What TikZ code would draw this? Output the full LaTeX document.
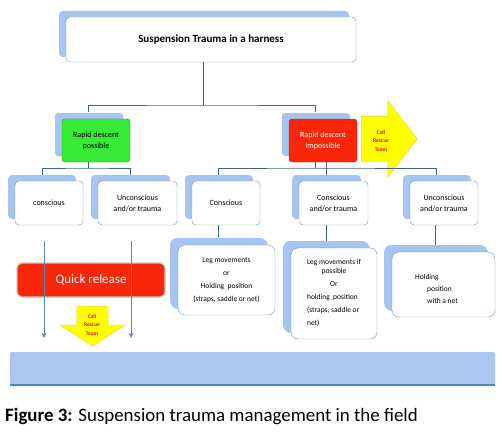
\documentclass[tikz,border=0pt]{standalone}
\usepackage{fontspec}
\setmainfont{Carlito}
\usetikzlibrary{arrows.meta, shapes.arrows, shadows, positioning}
\definecolor{shadowblue}{RGB}{166,196,240}
\definecolor{boxline}{RGB}{110,145,190}
\definecolor{connline}{RGB}{60,100,140}
\definecolor{arrowline}{RGB}{90,134,184}
\definecolor{okgreen}{RGB}{55,235,55}
\definecolor{alarmred}{RGB}{250,38,10}
\definecolor{callyellow}{RGB}{255,255,0}
\definecolor{barblue}{RGB}{169,199,240}
\definecolor{baredge}{RGB}{80,130,190}

\begin{document}
\begin{tikzpicture}[x=1pt, y=-1pt,
    box/.style={rectangle, draw=boxline, thin, fill=white, rounded corners=4pt, align=center, font=\fontsize{8}{11}\selectfont, minimum width=68pt, minimum height=44pt, inner sep=2pt, copy shadow={shadow xshift=-7pt, shadow yshift=6pt, fill=shadowblue, draw=none}},
    titlebox/.style={box, minimum width=290pt, minimum height=45pt, font=\fontsize{11}{13}\selectfont\bfseries, copy shadow={shadow xshift=-7pt, shadow yshift=5pt, fill=shadowblue, draw=none}},
    actbox/.style={box, rounded corners=7pt, font=\fontsize{7.5}{9}\selectfont, copy shadow={shadow xshift=-8pt, shadow yshift=7pt, fill=shadowblue, draw=none}},
    greenbox/.style={box, fill=okgreen, draw=okgreen!60!black, rounded corners=3pt, minimum height=43pt},
    redbox/.style={box, fill=alarmred, draw=alarmred!80!black, text=white, rounded corners=3pt, minimum height=43pt},
    releasebox/.style={rectangle, fill=alarmred, draw=gray!45, line width=1.2pt, rounded corners=5pt, text=white, font=\fontsize{13}{15}\selectfont, minimum width=148pt, minimum height=34pt},
    callarrow/.style={single arrow, fill=callyellow, draw=callyellow!70!gray, thin, anchor=tail, inner sep=0pt},
    calltext/.style={text=red, align=center, font=\fontsize{5.5}{8.5}\selectfont\bfseries, inner sep=0pt},
    conn/.style={draw=connline, thin},
    downline/.style={draw=arrowline, thin, -{Stealth[length=5pt, width=5pt]}}
]
    \useasboundingbox (0,0) rectangle (502,433);

    % Top of the tree
    \node (title) [titlebox] at (211,39.5) {Suspension Trauma in a harness};

    % Second level: can the casualty be lowered
    \node (green) [greenbox] at (96,140.5) {Rapid descent\\possible};
    \node (red) [redbox] at (323,140.5) {Rapid descent\\impossible};
    \node (callR) [callarrow, inner ysep=22.5pt, minimum height=56pt, single arrow head extend=15.5pt, single arrow tip angle=105] at (361,139) {};
    \node (callRtxt) [calltext] at (381,141) {Call\\Rescue\\Team};

    % Third level: state of the casualty
    \node (c1) [box] at (49,203) {conscious};
    \node (u1) [box, minimum width=79pt] at (137.5,203) {Unconscious\\and/or trauma};
    \node (c2) [box] at (226,203) {Conscious};
    \node (c3) [box, minimum width=69pt] at (333.5,203) {Conscious\\and/or trauma};
    \node (u2) [box] at (444,203) {Unconscious\\and/or trauma};

    % Fourth level: what to do while waiting
    \node (leg1) [actbox, minimum width=97pt, minimum height=70pt] at (226.5,280) {Leg movements\\[4pt]or\\[4pt]Holding\ \ position\\[4pt](straps, saddle or net)};
    \node (leg2) [actbox, minimum width=86pt, minimum height=91pt] at (334,293.5) {\begin{tabular}{@{}l@{}}
        \multicolumn{1}{@{}c@{}}{Leg movements if}\\
        \multicolumn{1}{@{}c@{}}{possible}\\[4pt]
        \multicolumn{1}{@{}c@{}}{Or}\\[4pt]
        holding\ \ position\\[4pt]
        (straps, saddle or\\[4pt]
        net)
    \end{tabular}};
    \node (hold) [actbox, minimum width=103pt, minimum height=65pt] at (443.5,284.5) {\begin{tabular}{@{}l@{\hspace{14pt}}}
        \rule{0pt}{17pt}Holding\\[3pt]
        \hspace{12pt}position\\[3pt]
        \hspace{12pt}with a net
    \end{tabular}};

    % Quick release branch
    \node (quick) [releasebox] at (91,280) {Quick release};
    \node (callD) [callarrow, shape border rotate=270, inner xsep=15.5pt, minimum height=40pt, single arrow head extend=17pt, single arrow tip angle=114] at (92.5,306) {};
    \node (callDtxt) [calltext] at (92,325) {Call\\Rescue\\Team};

    % Bottom band
    \node (bar) [rectangle, fill=barblue, rounded corners=2pt, minimum width=485pt, minimum height=33pt] at (252.5,368.5) {};
    \draw [draw=baredge, line width=1.5pt] (bar.south west) -- (bar.south east);

    % Caption
    \node (caption) [anchor=base west, inner sep=0pt, font=\fontsize{18.9}{20}\selectfont] at (5,421) {\textbf{Figure 3:} Suspension trauma management in the field};

    % Tree connectors
    \coordinate (bus1) at (203,105);
    \coordinate (bus2) at (88,168);
    \coordinate (bus3) at (315,168);
    \draw [conn] ([xshift=-8pt]title.south) -- (bus1);
    \draw [conn] ([xshift=-8pt, yshift=7pt]green.north) |- (bus1) -| ([xshift=-8pt, yshift=7pt]red.north);
    \draw [conn] ([xshift=-8pt]green.south) -- (bus2);
    \draw [conn] ([xshift=-7pt, yshift=6pt]c1.north) |- (bus2) -| ([xshift=-7pt, yshift=6pt]u1.north);
    \draw [conn] ([xshift=-8pt]red.south) -- (bus3);
    \draw [conn] ([xshift=-8pt, yshift=6pt]c2.north) |- (bus3) -| ([xshift=-8pt, yshift=6pt]u2.north);
    \draw [conn] ([xshift=-7pt, yshift=6pt]c3.north) -- ([xshift=-7pt, yshift=6pt]c3.north |- bus3);
    \draw [conn] ([xshift=-8pt]c2.south) -- ([xshift=-8pt, yshift=8pt]c2.south |- leg1.north);
    \draw [conn] ([xshift=-7pt]c3.south) -- ([xshift=-7pt, yshift=7pt]c3.south |- leg2.north);
    \draw [conn] ([xshift=-9pt]u2.south) -- ([xshift=-9pt, yshift=7pt]u2.south |- hold.north);

    % Arrows past the quick release
    \draw [downline, shorten <=16pt, shorten >=14pt] ([xshift=-5pt]c1.south) -- ([xshift=-5pt]c1.south |- bar.north);
    \draw [downline, shorten <=16pt, shorten >=14pt] ([xshift=-6.5pt]u1.south) -- ([xshift=-6.5pt]u1.south |- bar.north);
\end{tikzpicture}
\end{document}
